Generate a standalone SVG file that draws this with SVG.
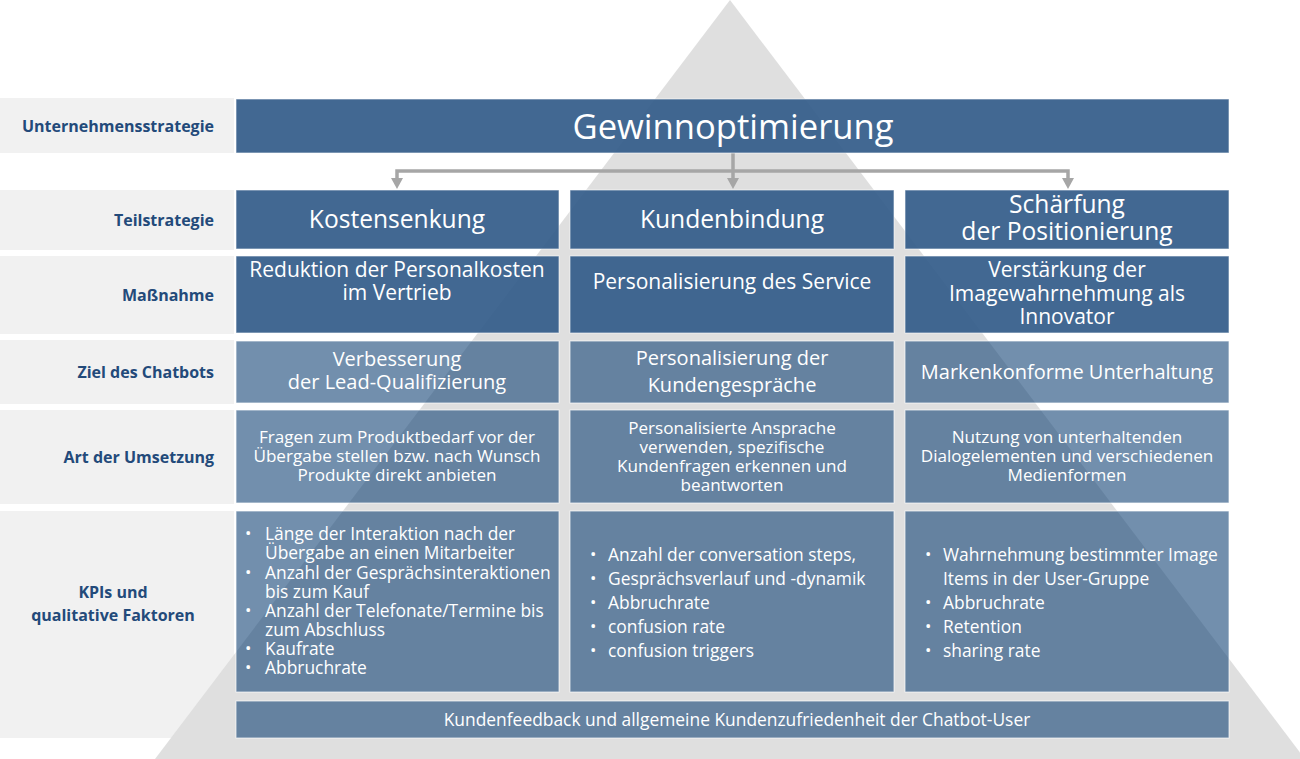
<svg xmlns="http://www.w3.org/2000/svg" width="1300" height="759" viewBox="0 0 1300 759">
<defs>
<style>
.lbl{fill:#f1f1f1}
.dk{fill:#345c8a;fill-opacity:0.93;stroke:#ffffff;stroke-opacity:0.6;stroke-width:1}
.lt{fill:#144476;fill-opacity:0.6;stroke:#ffffff;stroke-opacity:0.7;stroke-width:1}
text{font-family:"Open Sans","Noto Sans","Liberation Sans",sans-serif}
.lb{font-weight:bold;font-size:16px;fill:#234a7a;text-anchor:end}
.lbc{font-weight:bold;font-size:16px;fill:#234a7a;text-anchor:middle}
.t36{font-size:34.6px;fill:#ffffff;text-anchor:middle}
.t24{font-size:24.6px;fill:#ffffff;text-anchor:middle}
.t20{font-size:21px;fill:#ffffff;text-anchor:middle}
.t19{font-size:20px;fill:#ffffff;text-anchor:middle}
.t16{font-size:17.1px;fill:#ffffff;text-anchor:middle}
.k{font-size:17.4px;fill:#ffffff}
.b{font-size:17px}
.fb{font-size:17.4px;fill:#ffffff;text-anchor:middle}
.conn{stroke:#a6a6a6;stroke-width:3.5;fill:none}
</style>
</defs>
<rect x="0" y="0" width="1300" height="759" fill="#ffffff"/>
<g id="labels-bg">
<rect class="lbl" x="0" y="98" width="234" height="55"/>
<rect class="lbl" x="0" y="190" width="234" height="60"/>
<rect class="lbl" x="0" y="256" width="234" height="78"/>
<rect class="lbl" x="0" y="340" width="234" height="64"/>
<rect class="lbl" x="0" y="410" width="234" height="94"/>
<rect class="lbl" x="0" y="511" width="234" height="227"/>
</g>
<polygon id="pyramid" points="730,0 155,759 1305,759" fill="#dddddd" fill-opacity="0.95"/>
<g id="connectors">
<line class="conn" x1="733" y1="153" x2="733" y2="179"/>
<polyline class="conn" points="397,180 397,171 1068,171 1068,180"/>
<path d="M727,178 L739,178 L733,189 Z" fill="#a6a6a6"/>
<path d="M391,178 L403,178 L397,189 Z" fill="#a6a6a6"/>
<path d="M1062,178 L1074,178 L1068,189 Z" fill="#a6a6a6"/>
</g>
<g id="n-unternehmensstrategie">
<text class="lb" x="214" y="132">Unternehmensstrategie</text>
</g>
<g id="n-gewinn">
<rect class="dk" x="236" y="99" width="993" height="54"/>
<text class="t36" x="733" y="139">Gewinnoptimierung</text>
</g>
<g id="n-teilstrategie">
<text class="lb" x="214" y="226">Teilstrategie</text>
</g>
<g id="n-kosten">
<rect class="dk" x="236" y="190" width="323" height="59"/>
<text class="t24" x="397" y="228">Kostensenkung</text>
</g>
<g id="n-kunden">
<rect class="dk" x="570" y="190" width="324" height="59"/>
<text class="t24" x="732" y="228">Kundenbindung</text>
</g>
<g id="n-schaerfung">
<rect class="dk" x="905" y="190" width="324" height="59"/>
<text class="t24" x="1067" y="213">Schärfung<tspan x="1067" dy="27">der Positionierung</tspan></text>
</g>
<g id="n-massnahme">
<text class="lb" x="214" y="301">Maßnahme</text>
</g>
<g id="n-m1">
<rect class="dk" x="236" y="256" width="323" height="77"/>
<text class="t20" x="397" y="277">Reduktion der Personalkosten<tspan x="397" dy="23">im Vertrieb</tspan></text>
</g>
<g id="n-m2">
<rect class="dk" x="570" y="256" width="324" height="77"/>
<text class="t20" x="732" y="289">Personalisierung des Service</text>
</g>
<g id="n-m3">
<rect class="dk" x="905" y="256" width="324" height="77"/>
<text class="t20" x="1067" y="277">Verstärkung der<tspan x="1067" dy="24">Imagewahrnehmung als</tspan><tspan x="1067" dy="23">Innovator</tspan></text>
</g>
<g id="n-ziel">
<text class="lb" x="214" y="378">Ziel des Chatbots</text>
</g>
<g id="n-z1">
<rect class="lt" x="236" y="341" width="323" height="62"/>
<text class="t19" x="397" y="366">Verbesserung<tspan x="397" dy="23">der Lead-Qualifizierung</tspan></text>
</g>
<g id="n-z2">
<rect class="lt" x="570" y="341" width="324" height="62"/>
<text class="t19" x="732" y="365">Personalisierung der<tspan x="732" dy="27">Kundengespräche</tspan></text>
</g>
<g id="n-z3">
<rect class="lt" x="905" y="341" width="324" height="62"/>
<text class="t19" x="1067" y="379">Markenkonforme Unterhaltung</text>
</g>
<g id="n-art">
<text class="lb" x="214" y="463">Art der Umsetzung</text>
</g>
<g id="n-a1">
<rect class="lt" x="236" y="410" width="323" height="93"/>
<text class="t16" x="397" y="443">Fragen zum Produktbedarf vor der<tspan x="397" dy="19">Übergabe stellen bzw. nach Wunsch</tspan><tspan x="397" dy="19">Produkte direkt anbieten</tspan></text>
</g>
<g id="n-a2">
<rect class="lt" x="570" y="410" width="324" height="93"/>
<text class="t16" x="732" y="434">Personalisierte Ansprache<tspan x="732" dy="19">verwenden, spezifische</tspan><tspan x="732" dy="19">Kundenfragen erkennen und</tspan><tspan x="732" dy="19">beantworten</tspan></text>
</g>
<g id="n-a3">
<rect class="lt" x="905" y="410" width="324" height="93"/>
<text class="t16" x="1067" y="443">Nutzung von unterhaltenden<tspan x="1067" dy="19">Dialogelementen und verschiedenen</tspan><tspan x="1067" dy="19">Medienformen</tspan></text>
</g>
<g id="n-kpi">
<text class="lbc" x="113" y="598">KPIs und<tspan x="113" dy="23">qualitative Faktoren</tspan></text>
</g>
<g id="n-k1">
<rect class="lt" x="236" y="511" width="323" height="181"/>
<text class="k" x="265" y="540"><tspan class="b" x="245" y="539">•</tspan><tspan x="265" y="540">Länge der Interaktion nach der</tspan><tspan x="265" y="559">Übergabe an einen Mitarbeiter</tspan><tspan class="b" x="245" y="578">•</tspan><tspan x="265" y="579">Anzahl der Gesprächsinteraktionen</tspan><tspan x="265" y="598">bis zum Kauf</tspan><tspan class="b" x="245" y="616">•</tspan><tspan x="265" y="617">Anzahl der Telefonate/Termine bis</tspan><tspan x="265" y="636">zum Abschluss</tspan><tspan class="b" x="245" y="654">•</tspan><tspan x="265" y="655">Kaufrate</tspan><tspan class="b" x="245" y="673">•</tspan><tspan x="265" y="674">Abbruchrate</tspan></text>
</g>
<g id="n-k2">
<rect class="lt" x="570" y="511" width="324" height="181"/>
<text class="k" x="608" y="561"><tspan class="b" x="590" y="560">•</tspan><tspan x="608" y="561">Anzahl der conversation steps,</tspan><tspan class="b" x="590" y="584">•</tspan><tspan x="608" y="585">Gesprächsverlauf und -dynamik</tspan><tspan class="b" x="590" y="608">•</tspan><tspan x="608" y="609">Abbruchrate</tspan><tspan class="b" x="590" y="632">•</tspan><tspan x="608" y="633">confusion rate</tspan><tspan class="b" x="590" y="656">•</tspan><tspan x="608" y="657">confusion triggers</tspan></text>
</g>
<g id="n-k3">
<rect class="lt" x="905" y="511" width="324" height="181"/>
<text class="k" x="943" y="561"><tspan class="b" x="925" y="560">•</tspan><tspan x="943" y="561">Wahrnehmung bestimmter Image</tspan><tspan x="943" y="585">Items in der User-Gruppe</tspan><tspan class="b" x="925" y="608">•</tspan><tspan x="943" y="609">Abbruchrate</tspan><tspan class="b" x="925" y="632">•</tspan><tspan x="943" y="633">Retention</tspan><tspan class="b" x="925" y="656">•</tspan><tspan x="943" y="657">sharing rate</tspan></text>
</g>
<g id="n-feedback">
<rect class="lt" x="236" y="701" width="993" height="37"/>
<text class="fb" x="737" y="726">Kundenfeedback und allgemeine Kundenzufriedenheit der Chatbot-User</text>
</g>
</svg>
